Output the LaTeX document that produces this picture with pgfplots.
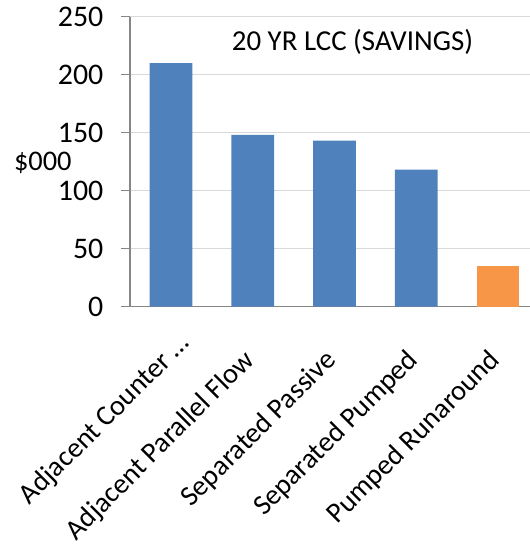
\documentclass[border=0pt]{standalone}
\usepackage{pgfplots}
\pgfplotsset{compat=1.18}
\usepackage{fontspec}
\setmainfont{Carlito}
\definecolor{barblue}{HTML}{4F81BD}
\definecolor{barorange}{HTML}{F79646}
\definecolor{gridgray}{HTML}{D9D9D9}
\definecolor{axisgray}{HTML}{868686}
\begin{document}
\fontsize{28.5}{34}\selectfont
\begin{tikzpicture}[x=1bp,y=1bp]
\useasboundingbox (-130,-241.5) rectangle (400,306.5);
\begin{axis}[
  at={(0,0)}, anchor=south west,
  scale only axis,
  width=400bp, height=289.8bp,
  xmin=-0.5, xmax=4.39,
  ymin=0, ymax=250,
  ytick={0,50,...,250},
  xtick={0,1,2,3,4},
  % the truncated first label runs a little past its tick
  xticklabels={Adjacent Counter \ldots\hspace*{-24bp}, Adjacent Parallel Flow, Separated Passive, Separated Pumped, Pumped Runaround},
  axis x line*=bottom,
  axis y line*=left,
  axis line style={axisgray, line width=1.4bp},
  x axis line style={-},
  y axis line style={-},
  ymajorgrids,
  grid style={gridgray, line width=1.2bp},
  tick align=outside,
  major tick length=9bp,
  xtick style={draw=none},
  ytick style={axisgray, line width=1.2bp},
  /pgf/number format/assume math mode=true,
  yticklabel style={font=\fontsize{30}{36}\selectfont, anchor=east, xshift=-8bp},
  xticklabel style={font=\fontsize{28.5}{34}\selectfont, xshift=3bp, yshift=-46bp, rotate=45, anchor=base east, inner sep=0pt},
  ylabel={\$000},
  ylabel style={rotate=-90, at={(rel axis cs:-0.218,0.494)}, anchor=center, font=\fontsize{28.5}{34}\selectfont},
  bar width=0.522,
  clip=false,
]
\addplot[ybar, fill=barblue, draw=none] coordinates {(0,210) (1,148) (2,143) (3,118)};
\addplot[ybar, fill=barorange, draw=none] coordinates {(4,35)};
\node[font=\fontsize{29}{35}\selectfont] at (axis cs:2.22,227.8) {20 YR LCC (SAVINGS)};
\end{axis}
\end{tikzpicture}
\end{document}
